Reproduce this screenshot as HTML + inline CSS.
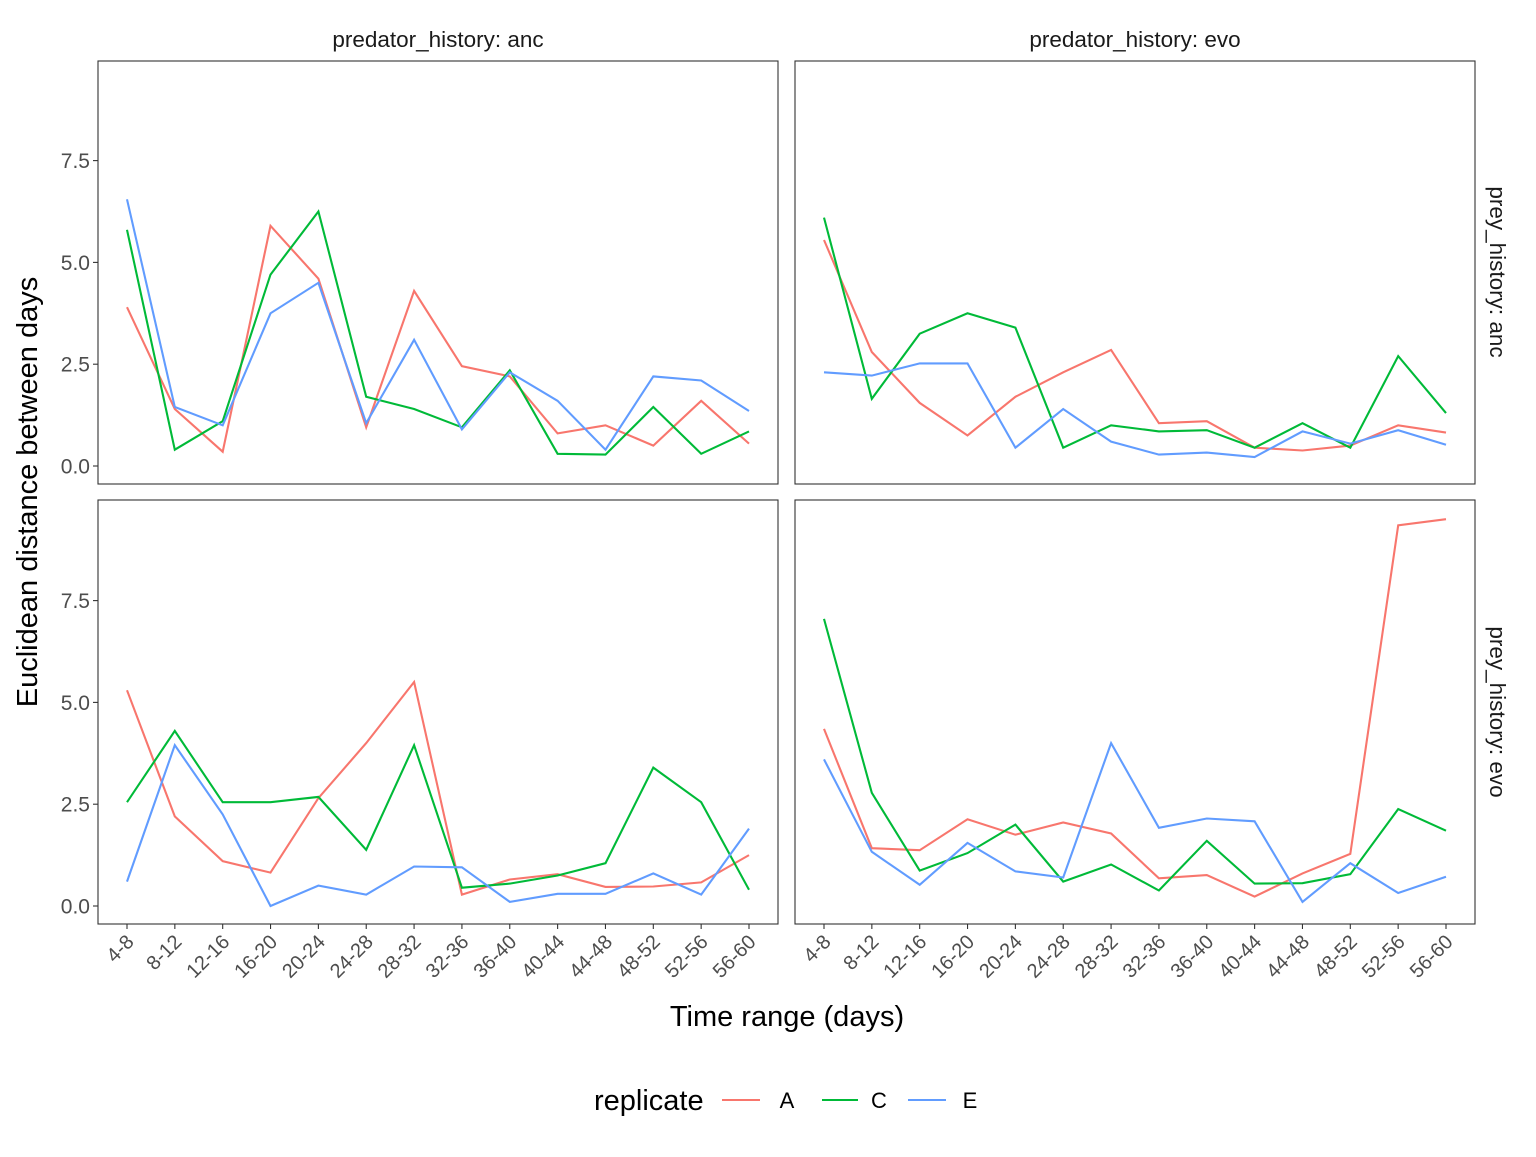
<!DOCTYPE html>
<html><head><meta charset="utf-8"><style>
body{margin:0;background:#fff}
svg text{font-family:"Liberation Sans",sans-serif}
</style></head><body>
<svg id="chart" width="1536" height="1152" xmlns="http://www.w3.org/2000/svg"></svg>
<script>
const categories=["4-8","8-12","12-16","16-20","20-24","24-28","28-32","32-36","36-40","40-44","44-48","48-52","52-56","56-60"];
const yTicks=[0,2.5,5,7.5];
const yTickLabels=["0.0","2.5","5.0","7.5"];
const replicates=["A","C","E"];
const colors={A:"#F8766D",C:"#00BA38",E:"#619CFF"};
const tlA=[3.9,1.4,0.35,5.9,4.6,0.95,4.3,2.45,2.2,0.8,1.0,0.5,1.6,0.55];
const tlC=[5.8,0.4,1.1,4.7,6.25,1.7,1.4,0.95,2.35,0.3,0.28,1.45,0.3,0.85];
const tlE=[6.55,1.45,1.0,3.75,4.5,1.05,3.1,0.9,2.3,1.6,0.4,2.2,2.1,1.35];
const trA=[5.55,2.8,1.55,0.75,1.7,2.3,2.85,1.05,1.1,0.45,0.38,0.5,1.0,0.82];
const trC=[6.1,1.65,3.25,3.75,3.4,0.45,1.0,0.85,0.88,0.45,1.05,0.45,2.7,1.3];
const trE=[2.3,2.22,2.52,2.52,0.45,1.4,0.6,0.28,0.33,0.22,0.85,0.55,0.88,0.52];
const blA=[5.3,2.2,1.1,0.82,2.65,4.0,5.5,0.28,0.65,0.78,0.47,0.48,0.58,1.25];
const blC=[2.55,4.3,2.55,2.55,2.68,1.38,3.95,0.45,0.55,0.75,1.05,3.4,2.55,0.4];
const blE=[0.6,3.95,2.25,0.0,0.5,0.28,0.97,0.95,0.1,0.3,0.3,0.8,0.28,1.9];
const brA=[4.35,1.42,1.37,2.13,1.75,2.05,1.78,0.68,0.76,0.23,0.8,1.28,9.35,9.5];
const brC=[7.05,2.78,0.87,1.3,2.0,0.6,1.02,0.38,1.6,0.55,0.56,0.78,2.38,1.85];
const brE=[3.6,1.33,0.52,1.55,0.85,0.7,4.0,1.92,2.15,2.08,0.1,1.05,0.32,0.72];

const NS="http://www.w3.org/2000/svg";
const svg=document.getElementById('chart');
function mk(tag,attrs,parent){const e=document.createElementNS(NS,tag);for(const k in attrs)e.setAttribute(k,attrs[k]);(parent||svg).appendChild(e);return e;}
const panels=[
 {id:"anc-anc",x0:98,x1:778,y0:61,y1:484,zero:466,data:{A:tlA,C:tlC,E:tlE},yaxis:true,xaxis:false},
 {id:"evo-anc",x0:795,x1:1475,y0:61,y1:484,zero:466,data:{A:trA,C:trC,E:trE},yaxis:false,xaxis:false},
 {id:"anc-evo",x0:98,x1:778,y0:500,y1:924,zero:906,data:{A:blA,C:blC,E:blE},yaxis:true,xaxis:true},
 {id:"evo-evo",x0:795,x1:1475,y0:500,y1:924,zero:906,data:{A:brA,C:brC,E:brE},yaxis:false,xaxis:true}
];
const unit=101.8/2.5;
panels.forEach(p=>{
 const xs=i=>p.x0+29+i*(622/13);
 const ys=v=>p.zero-v*unit;
 const g=mk('g',{});
 
 
 replicates.forEach(r=>{
  const pts=p.data[r].map((v,i)=>xs(i).toFixed(1)+","+ys(v).toFixed(1)).join(" ");
  const l=mk('polyline',{points:pts,fill:"none",stroke:colors[r],"stroke-width":2.1},g);
  
  
 });
 mk('rect',{x:p.x0,y:p.y0,width:p.x1-p.x0,height:p.y1-p.y0,fill:"none",stroke:"#333","stroke-width":1.1},g);
 if(p.yaxis){
  yTicks.forEach((t,i)=>{
   mk('line',{x1:p.x0-5,x2:p.x0,y1:ys(t),y2:ys(t),stroke:"#333","stroke-width":1.1},g);
   const tx=mk('text',{x:p.x0-8,y:ys(t)+7.5,"text-anchor":"end","font-size":21,fill:"#4d4d4d"},g);
   tx.textContent=yTickLabels[i];
   
   
  });
 }
 if(p.xaxis){
  categories.forEach((c,i)=>{
   const x=xs(i);
   mk('line',{x1:x,x2:x,y1:p.y1,y2:p.y1+5,stroke:"#333","stroke-width":1.1},g);
   const tx=mk('text',{x:x+8,y:p.y1+19,"text-anchor":"end","font-size":20,fill:"#4d4d4d",transform:`rotate(-45 ${x+8} ${p.y1+19})`},g);
   tx.textContent=c;
   
   
  });
 }
});
function txt(s,attrs,name){const t=mk('text',attrs);t.textContent=s;return t;}
txt("predator_history: anc",{x:438,y:47,"text-anchor":"middle","font-size":22.5,fill:"#1a1a1a"},"strip-top-anc");
txt("predator_history: evo",{x:1135,y:47,"text-anchor":"middle","font-size":22.5,fill:"#1a1a1a"},"strip-top-evo");
txt("prey_history: anc",{x:1490,y:272,"text-anchor":"middle","font-size":22.5,fill:"#1a1a1a",transform:"rotate(90 1490 272)"},"strip-right-anc");
txt("prey_history: evo",{x:1490,y:712,"text-anchor":"middle","font-size":22.5,fill:"#1a1a1a",transform:"rotate(90 1490 712)"},"strip-right-evo");
txt("Euclidean distance between days",{x:37,y:492,"text-anchor":"middle","font-size":29,fill:"#000",transform:"rotate(-90 37 492)"},"y-axis-title");
txt("Time range (days)",{x:787,y:1026,"text-anchor":"middle","font-size":29,fill:"#000"},"x-axis-title");
txt("replicate",{x:594,y:1110,"font-size":29,fill:"#000"},"legend-title");
const lx={A:[722,760,787],C:[822,858,879],E:[908,946,970]};
replicates.forEach(r=>{
 const g=mk('g',{});
 
 
 mk('line',{x1:lx[r][0],x2:lx[r][1],y1:1100,y2:1100,stroke:colors[r],"stroke-width":2.1},g);
 const t=mk('text',{x:lx[r][2],y:1108,"text-anchor":"middle","font-size":22,fill:"#000"},g);
 t.textContent=r;
});
</script>
</body></html>
